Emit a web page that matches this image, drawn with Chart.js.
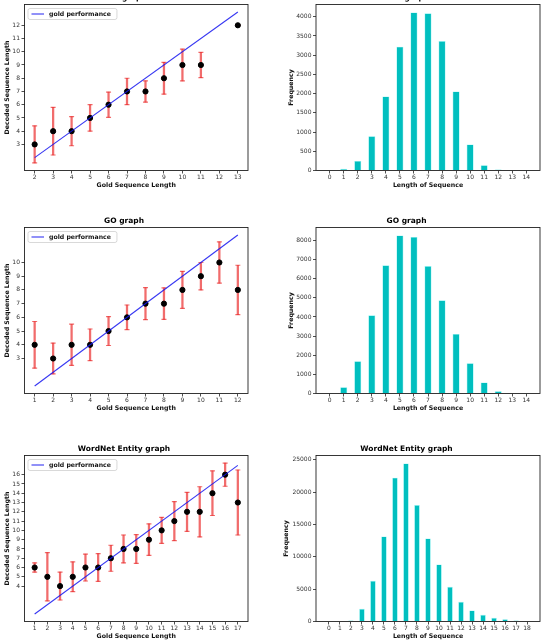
<!DOCTYPE html>
<html>
<head>
<meta charset="utf-8">
<script src="https://cdn.jsdelivr.net/npm/chart.js@4.4.0/dist/chart.umd.min.js"></script>
<style>
  html, body { margin: 0; padding: 0; background: #fff; overflow: hidden; }
  #wrap { position: relative; width: 546px; height: 643px; overflow: hidden; }
  canvas { position: absolute; }
</style>
</head>
<body>
<div id="wrap"></div>
<script>
// values
const hpLengths = [2, 3, 4, 5, 6, 7, 8, 9, 10, 11, 13];
const hpDecoded = [3, 4, 4, 5, 6, 7, 7, 8, 9, 9, 12];
const hpStd = [1.4, 1.8, 1.1, 1.0, 0.95, 1.0, 0.8, 1.2, 1.2, 0.95, 0];
const hpXTicks = [2, 3, 4, 5, 6, 7, 8, 9, 10, 11, 12, 13];
const hpYTicks = [3, 4, 5, 6, 7, 8, 9, 10, 11, 12];

const goLengths = [1, 2, 3, 4, 5, 6, 7, 8, 9, 10, 11, 12];
const goDecoded = [4, 3, 4, 4, 5, 6, 7, 7, 8, 9, 10, 8];
const goStd = [1.7, 1.12, 1.5, 1.15, 1.05, 0.9, 1.17, 1.15, 1.35, 1.0, 1.5, 1.8];
const goXTicks = [1, 2, 3, 4, 5, 6, 7, 8, 9, 10, 11, 12];
const goYTicks = [3, 4, 5, 6, 7, 8, 9, 10];

const wnLengths = [1, 2, 3, 4, 5, 6, 7, 8, 9, 10, 11, 12, 13, 14, 15, 16, 17];
const wnDecoded = [6, 5, 4, 5, 6, 6, 7, 8, 8, 9, 10, 11, 12, 12, 14, 16, 13];
const wnStd = [0.5, 2.6, 1.5, 1.6, 1.45, 1.5, 1.4, 1.5, 1.55, 1.7, 1.4, 2.1, 2.1, 2.7, 2.4, 1.25, 3.5];
const wnXTicks = wnLengths;
const wnYTicks = [4, 5, 6, 7, 8, 9, 10, 11, 12, 13, 14, 15, 16];

const hpHistLengths = [0, 1, 2, 3, 4, 5, 6, 7, 8, 9, 10, 11, 12, 13, 14];
const hpFreq = [0, 43, 250, 894, 1926, 3219, 4113, 4090, 3367, 2056, 677, 139, 25, 8, 2];
const hpFreqTicks = [0, 500, 1000, 1500, 2000, 2500, 3000, 3500, 4000];

const goHistLengths = [0, 1, 2, 3, 4, 5, 6, 7, 8, 9, 10, 11, 12, 13, 14];
const goFreq = [5, 330, 1690, 4087, 6696, 8260, 8180, 6660, 4870, 3113, 1583, 574, 122, 15, 3];
const goFreqTicks = [0, 1000, 2000, 3000, 4000, 5000, 6000, 7000, 8000];

const wnHistLengths = [0, 1, 2, 3, 4, 5, 6, 7, 8, 9, 10, 11, 12, 13, 14, 15, 16, 17, 18];
const wnFreq = [0, 0, 155, 1959, 6289, 13144, 22216, 24433, 17990, 12835, 8814, 5361, 3041, 1701, 1031, 567, 361, 155, 50];
const wnFreqTicks = [0, 5000, 10000, 15000, 20000, 25000];

const titles = ['HPO graph', 'GO graph', 'WordNet Entity graph'];

Chart.defaults.font.family = 'DejaVu Sans';
Chart.defaults.color = '#222';
Chart.defaults.animation = false;

const wrap = document.getElementById('wrap');
const rowTops = [4, 227, 455];   // top of each row's plot box
const TITLE_H = 10.5;
const CANVAS_H = 200;

const makeCanvas = (left, plotTop) => {
  const c = document.createElement('canvas');
  c.width = 273;
  c.height = CANVAS_H;
  c.style.left = left + 'px';
  c.style.top = (plotTop - TITLE_H) + 'px';
  c.style.width = '273px';
  c.style.height = CANVAS_H + 'px';
  wrap.appendChild(c);
  return c;
};

const padRange = (lo, hi) => {
  const m = (hi - lo) * 0.05;
  return [lo - m, hi + m];
};

// box round the plot
const framePlugin = {
  id: 'frame',
  afterDraw(chart) {
    const { ctx, chartArea: a } = chart;
    ctx.save();
    ctx.strokeStyle = '#222';
    ctx.lineWidth = 0.9;
    ctx.strokeRect(a.left, a.top, a.right - a.left, a.bottom - a.top);
    ctx.restore();
  }
};

// matplotlib style legend in the upper left corner of the plot
const cornerLegend = {
  id: 'cornerLegend',
  afterDraw(chart) {
    const ds = chart.data.datasets[0];
    const { ctx, chartArea: a } = chart;
    ctx.save();
    ctx.font = 'bold 6.2px "DejaVu Sans"';
    const tw = ctx.measureText(ds.label).width;
    const x = a.left + 3.5;
    const y = a.top + 4;
    const w = tw + 27;
    const h = 11;
    ctx.fillStyle = 'rgba(255,255,255,0.85)';
    ctx.strokeStyle = '#cfcfcf';
    ctx.lineWidth = 0.8;
    ctx.beginPath();
    ctx.roundRect(x, y, w, h, 2);
    ctx.fill();
    ctx.stroke();
    ctx.strokeStyle = ds.borderColor;
    ctx.lineWidth = ds.borderWidth;
    ctx.beginPath();
    ctx.moveTo(x + 3.5, y + h / 2);
    ctx.lineTo(x + 16, y + h / 2);
    ctx.stroke();
    ctx.fillStyle = '#111';
    ctx.textBaseline = 'middle';
    ctx.fillText(ds.label, x + 21, y + h / 2 + 0.3);
    ctx.restore();
  }
};

const axis = (min, max, ticks, title, isX, fitSize, titlePad) => ({
  type: 'linear',
  min: min,
  max: max,
  offset: false,
  afterBuildTicks: s => { s.ticks = ticks.map(v => ({ value: v })); },
  afterFit: s => { if (isX) s.height = fitSize; else s.width = fitSize; },
  grid: { display: true, drawOnChartArea: false, drawTicks: true, tickLength: 3, color: '#222', lineWidth: 0.8, offset: false },
  border: { display: false },
  ticks: {
    font: { size: 6 }, color: '#333', padding: isX ? 0.5 : 1.5,
    autoSkip: false, maxRotation: 0, minRotation: 0,
    callback: v => String(v)
  },
  title: {
    display: true, text: title, color: '#111',
    font: { size: 6.25, weight: 'bold' },
    padding: isX ? { top: 0, bottom: 4.7 } : { top: titlePad, bottom: 0 }
  }
});

const titleOpts = text => ({
  display: true, text: text, color: '#000',
  font: { size: 7.5, weight: 'bold' },
  padding: { top: 0, bottom: 1.5 }
});

const decodedChart = (canvas, title, xs, ys, errs, xTicks, yTicks) => {
  const lows = ys.map((y, i) => y - errs[i]);
  const highs = ys.map((y, i) => y + errs[i]);
  const first = xs[0];
  const last = xs[xs.length - 1];
  const xr = padRange(first, last);
  const yr = padRange(Math.min(first, ...lows), Math.max(last, ...highs));

  new Chart(canvas, {
    type: 'scatter',
    data: {
      datasets: [
        {
          type: 'line',
          label: 'gold performance',
          data: [{ x: first, y: first }, { x: last, y: last }],
          borderColor: 'rgba(20,20,240,0.85)',
          backgroundColor: 'rgba(20,20,240,0.85)',
          borderWidth: 1.1,
          pointRadius: 0,
          order: 0
        },
        {
          label: 'decoded',
          data: xs.map((x, i) => ({ x: x, y: ys[i] })),
          backgroundColor: '#000',
          borderColor: '#000',
          pointRadius: 2.6,
          order: 1
        },
        {
          label: 'caps',
          data: xs.map((x, i) => ({ x: x, y: lows[i] })).concat(xs.map((x, i) => ({ x: x, y: highs[i] }))),
          pointStyle: 'line',
          pointRadius: 2.5,
          borderWidth: 1.2,
          borderColor: 'rgba(235,45,45,0.7)',
          order: 2
        },
        {
          type: 'bar',
          label: 'std',
          data: xs.map((x, i) => ({ x: x, y: [lows[i], highs[i]] })),
          backgroundColor: 'rgba(235,45,45,0.7)',
          barThickness: 1.6,
          grouped: false,
          order: 3
        }
      ]
    },
    options: {
      responsive: false,
      devicePixelRatio: 1,
      layout: { padding: { left: 0, right: 25, top: 0, bottom: 0 } },
      plugins: {
        title: titleOpts(title),
        tooltip: { enabled: false },
        legend: { display: false }
      },
      scales: {
        x: axis(xr[0], xr[1], xTicks, 'Gold Sequence Length', true, CANVAS_H - TITLE_H - 166, 0),
        y: axis(yr[0], yr[1], yTicks, 'Decoded Sequence Length', false, 24.5, 3.25)
      }
    },
    plugins: [framePlugin, cornerLegend]
  });
};

const freqChart = (canvas, title, lengths, freq, yTicks, yTitlePad) => {
  const xr = padRange(lengths[0] - 0.25, lengths[lengths.length - 1] + 0.25);
  new Chart(canvas, {
    type: 'bar',
    data: {
      datasets: [{
        label: 'frequency',
        data: lengths.map((x, i) => ({ x: x, y: freq[i] })),
        backgroundColor: '#00bfbf',
        borderColor: 'rgba(120,240,240,0.9)',
        borderWidth: 0.6,
        barPercentage: 0.5,
        categoryPercentage: 1.0
      }]
    },
    options: {
      responsive: false,
      devicePixelRatio: 1,
      layout: { padding: { left: 0, right: 6, top: 0, bottom: 0 } },
      plugins: {
        title: titleOpts(title),
        tooltip: { enabled: false },
        legend: { display: false }
      },
      scales: {
        x: axis(xr[0], xr[1], lengths, 'Length of Sequence', true, CANVAS_H - TITLE_H - 166, 0),
        y: axis(0, Math.max(...freq) * 1.05, yTicks, 'Frequency', false, 43, yTitlePad)
      }
    },
    plugins: [framePlugin]
  });
};

decodedChart(makeCanvas(0, rowTops[0]), titles[0], hpLengths, hpDecoded, hpStd, hpXTicks, hpYTicks);
decodedChart(makeCanvas(0, rowTops[1]), titles[1], goLengths, goDecoded, goStd, goXTicks, goYTicks);
decodedChart(makeCanvas(0, rowTops[2]), titles[2], wnLengths, wnDecoded, wnStd, wnXTicks, wnYTicks);

freqChart(makeCanvas(273, rowTops[0]), titles[0], hpHistLengths, hpFreq, hpFreqTicks, 14.25);
freqChart(makeCanvas(273, rowTops[1]), titles[1], goHistLengths, goFreq, goFreqTicks, 14.25);
freqChart(makeCanvas(273, rowTops[2]), titles[2], wnHistLengths, wnFreq, wnFreqTicks, 9.25);
</script>
</body>
</html>
